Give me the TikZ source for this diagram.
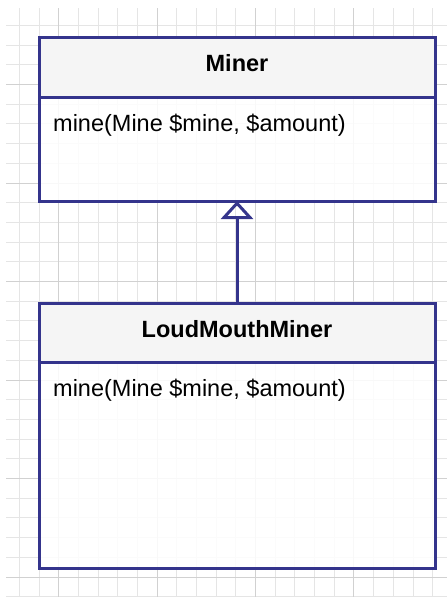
\documentclass[tikz,border=0pt]{standalone}
\usepackage{fontspec}
\setmainfont{Liberation Sans}
\usepackage{tikz}
\usetikzlibrary{positioning,arrows.meta}
\definecolor{umlblue}{RGB}{52,52,140}
\definecolor{headgray}{RGB}{245,245,245}
\tikzset{
    gridminor/.style={black!10, line width=0.8pt},
    gridmajor/.style={black!18, line width=0.8pt},
    classhead/.style={draw=umlblue, fill=headgray, line width=3pt, minimum width=396pt, inner sep=0pt, outer sep=0pt},
    classbody/.style={draw=umlblue, fill=white, fill opacity=0.85, draw opacity=1, line width=3pt, minimum width=396pt, inner sep=0pt, outer sep=0pt},
    classname/.style={font=\fontsize{23.5}{28}\selectfont\bfseries, inner sep=0pt, anchor=north},
    method/.style={font=\fontsize{23.5}{28}\selectfont, inner sep=0pt},
    inherits/.style={draw=umlblue, line width=3pt, -{Triangle[open, width=32pt, length=18pt, line width=3pt]}}
}
\begin{document}
\begin{tikzpicture}[x=1pt, y=-1pt]
    \useasboundingbox (0,0) rectangle (447,597);
    % background grid
    \foreach \i in {0,...,21} {
        \draw [gridminor] ({19.3+19.68*\i},8) -- ({19.3+19.68*\i},597);
    }
    \foreach \j in {0,...,29} {
        \draw [gridminor] (6,{25.3+19.7*\j}) -- (447,{25.3+19.7*\j});
    }
    \foreach \i in {2,7,12,17} {
        \draw [gridmajor] ({19.3+19.68*\i},8) -- ({19.3+19.68*\i},597);
    }
    \foreach \j in {3,8,13,18,23,28} {
        \draw [gridmajor] (6,{25.3+19.7*\j}) -- (447,{25.3+19.7*\j});
    }

    % class Miner
    \node [classhead, minimum height=60pt, anchor=north west] (minerhead) at (39,37) {};
    \node [classbody, minimum height=104pt, anchor=north] (minerbody) at (minerhead.south) {};
    \node [classname, below=17pt of minerhead.north] (minername) {Miner};
    \node [method, below right=17pt and 14pt of minerbody.north west] (minermethod) {mine(Mine \$mine, \$amount)};

    % class LoudMouthMiner
    \node [classhead, minimum height=59pt, anchor=north west] (loudhead) at (39,303) {};
    \node [classbody, minimum height=206pt, anchor=north] (loudbody) at (loudhead.south) {};
    \node [classname, below=17pt of loudhead.north] (loudname) {LoudMouthMiner};
    \node [method, below right=17pt and 14pt of loudbody.north west] (loudmethod) {mine(Mine \$mine, \$amount)};

    % generalisation
    \draw [inherits] (loudhead.north) -- (minerbody.south);
\end{tikzpicture}
\end{document}
